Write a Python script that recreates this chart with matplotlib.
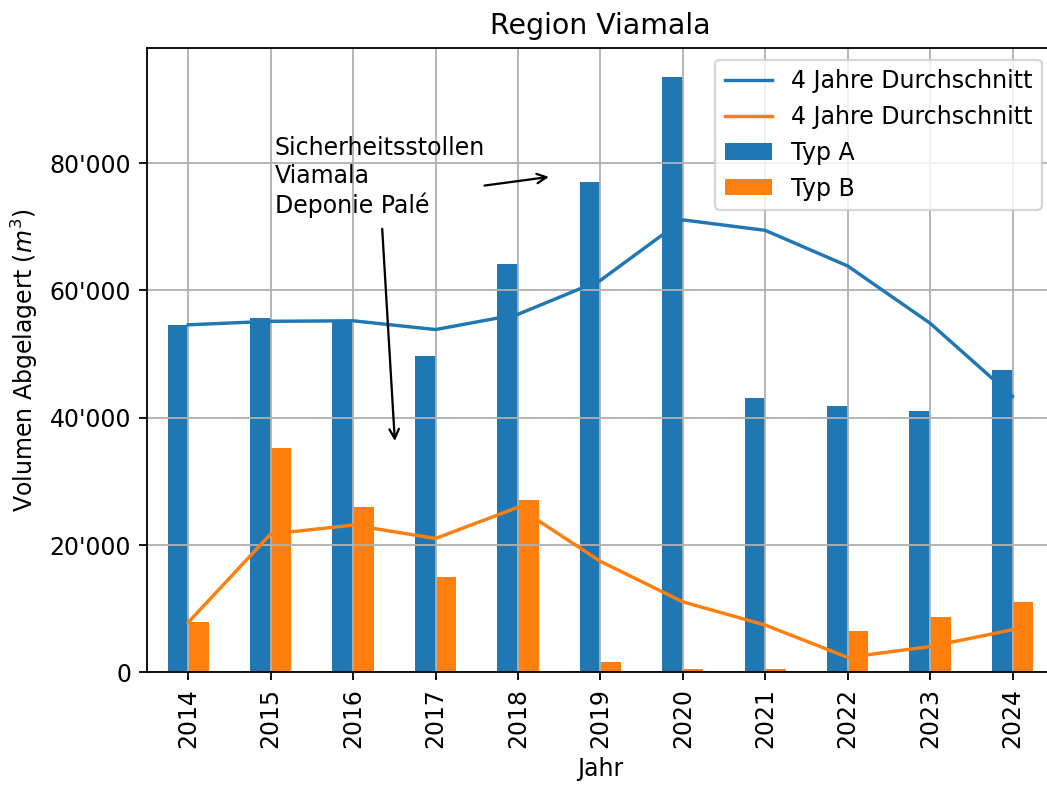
import numpy as np
import matplotlib
matplotlib.use("Agg")
import matplotlib.pyplot as plt
from matplotlib.ticker import FuncFormatter

plt.rcParams['font.size'] = 10.4

# Daten
jahre = [2014, 2015, 2016, 2017, 2018, 2019, 2020, 2021, 2022, 2023, 2024]
typ_a = [54600, 55700, 55400, 49700, 64200, 77000, 93500, 43100, 41800, 41000, 47450]
typ_b = [7800, 35200, 26000, 15000, 27000, 1600, 500, 400, 6500, 8600, 11000]
# 4 Jahre Durchschnitt (Linien)
avg_a = [54600, 55150, 55230, 53850, 56250, 61580, 71100, 69450, 63850, 54850, 43340]
avg_b = [7800, 21700, 23100, 21000, 25900, 17400, 11030, 7380, 2300, 4000, 6650]

fig = plt.figure(figsize=(6.4, 4.8), dpi=163.6)
ax = fig.add_axes([0.1404, 0.1439, 0.8660, 0.795])

x = np.arange(len(jahre))

# Linien
ax.plot(x, avg_a, color='C0', label='4 Jahre Durchschnitt')
ax.plot(x, avg_b, color='C1', label='4 Jahre Durchschnitt')

# Balken
ax.bar(x - 0.125, typ_a, 0.25, color='C0', label='Typ A')
ax.bar(x + 0.125, typ_b, 0.25, color='C1', label='Typ B')

ax.set_xlim(-0.5, 10.5)
ax.set_xticks(x)
ax.set_xticklabels([str(j) for j in jahre], rotation=90)
ax.yaxis.set_major_formatter(FuncFormatter(lambda v, p: f"{int(v):,}".replace(",", "'")))
ax.grid(True)

ax.set_title("Region Viamala")
ax.set_xlabel("Jahr")
ax.set_ylabel("Volumen Abgelagert ($m^3$)")

# Annotation
ax.text(1.05, 84300, "Sicherheitsstollen\nViamala\nDeponie Palé", va='top', ha='left')
ax.annotate('', xy=(4.43, 77950), xytext=(3.54, 76400),
            arrowprops=dict(arrowstyle='->', color='black'))
ax.annotate('', xy=(2.51, 35600), xytext=(2.35, 70400),
            arrowprops=dict(arrowstyle='->', color='black'))

ax.legend(loc='upper right')

fig.savefig("out.png", dpi=163.6)
